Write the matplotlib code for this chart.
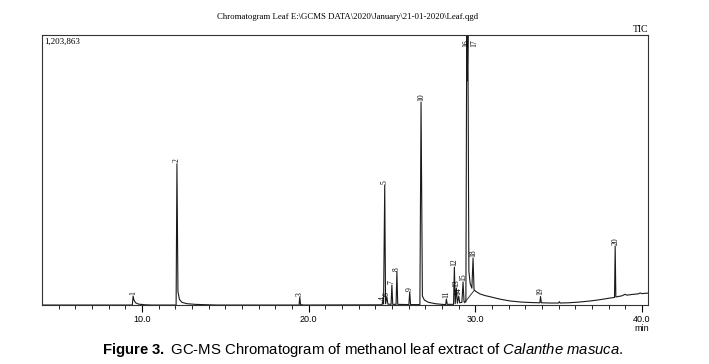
import numpy as np
import matplotlib.pyplot as plt

plt.rcParams['mathtext.fontset'] = 'custom'
plt.rcParams['mathtext.rm'] = 'Liberation Sans'
plt.rcParams['mathtext.it'] = 'Liberation Sans:italic'
plt.rcParams['mathtext.bf'] = 'Liberation Sans:bold'

# peak apexes (retention time in min, intensity in counts)
peak_no = [str(n) for n in range(1, 21)]
peak_rt = [9.47, 12.10, 19.47, 24.45, 24.57, 24.70, 25.00, 25.30, 26.07, 26.75,
           28.27, 28.75, 28.87, 29.01, 29.27, 29.49, 29.56, 29.87, 33.92, 38.40]
peak_h = [40000, 630000, 36000, 18000, 535000, 36000, 89000, 147000, 58000, 905000,
          27000, 169000, 76000, 40000, 103000, 1203863, 1203863, 210000, 38000, 263000]

# baseline, peak feet and tails (min, counts)
base_t = [4.0, 9.42, 9.52, 9.62, 9.8, 10.2, 10.6, 12.05, 12.16, 12.25, 12.4, 12.7,
          13.2, 14.0, 14.5, 19.43, 19.52, 19.7, 24.41, 24.50, 24.62, 24.76, 24.95,
          25.05, 25.25, 25.35, 26.02, 26.12, 26.68, 26.83, 26.95, 27.2, 27.6, 28.0,
          28.23, 28.32, 28.70, 28.80, 28.93, 29.07, 29.20, 29.33, 29.44, 29.525,
          29.62, 29.70, 29.80, 29.93, 30.05, 30.3, 30.6, 30.95, 31.5, 32.1, 32.8,
          33.4, 33.88, 33.97, 34.5, 35.0, 35.05, 35.1, 35.6, 36.2, 36.9, 37.5, 38.0,
          38.36, 38.44, 38.8, 39.0, 39.1, 39.4, 39.8, 39.9, 40.0, 40.35]
base_y = [0, 0, 22000, 10000, 4000, 1000, 0, 0, 60000, 25000, 12000, 6000,
          3000, 1000, 0, 0, 2000, 0, 1000, 5000, 6000, 4000, 3000,
          3000, 3000, 3000, 2000, 2000, 2000, 40000, 22000, 12000, 6000, 3000,
          2000, 3000, 3000, 6000, 8000, 10000, 12000, 14000, 14000, 1000000,
          150000, 95000, 75000, 68000, 60000, 49000, 42000, 36000, 26000, 18000, 13000,
          11000, 10000, 10000, 9000, 9000, 15000, 9000, 10000, 13000, 18000, 24000, 30000,
          34000, 36000, 41000, 48000, 44000, 47000, 50000, 54000, 51000, 53000]

ymax = 1203863

t = np.array(base_t + peak_rt)
y = np.array(base_y + peak_h)
order = np.argsort(t)

fig = plt.figure(figsize=(7.09, 3.64), dpi=100)
ax = fig.add_axes([0.0592, 0.162, 0.8543, 0.7418])

ax.plot(t[order], y[order], color='#1a1a1a', lw=0.8)
# integration line under the big peak
ax.plot([29.35, 29.95], [10000, 66000], color='#1a1a1a', lw=0.6)

serif = 'Liberation Serif'
for i in range(len(peak_no)):
    if peak_h[i] >= ymax:
        # labels of clipped peaks sit at the top, 17 pushed right of 16
        dx = 0 if peak_no[i] == '16' else 0.38
        ax.text(peak_rt[i] + dx, ymax * 0.985, peak_no[i], rotation=90, ha='center',
                va='top', fontsize=5.5, family=serif)
    else:
        ax.text(peak_rt[i], peak_h[i] + 6000, peak_no[i], rotation=90, ha='center',
                va='bottom', fontsize=5.5, family=serif)

ax.set_xlim(4.0, 40.35)
ax.set_ylim(0, ymax)
ax.set_xticks([10, 20, 30, 40])
ax.set_xticklabels(['10.0', '20.0', '30.0', '40.0'], fontsize=6.5, family='Liberation Sans')
ax.set_xticks(np.arange(5, 41, 1), minor=True)
ax.tick_params(axis='x', which='major', length=5, width=0.8, pad=2)
ax.tick_params(axis='x', which='minor', length=3, width=0.6)
ax.set_yticks([])
for s in ax.spines.values():
    s.set_linewidth(0.8)
    s.set_color('#333333')

ax.text(0.003, 0.99, '1,203,863', transform=ax.transAxes, ha='left', va='top',
        fontsize=6.5, family=serif)
fig.text(0.903, 0.918, 'TIC', ha='center', va='center', fontsize=7, family=serif)
fig.text(0.49, 0.953, r'Chromatogram Leaf E:\GCMS DATA\2020\January\21-01-2020\Leaf.qgd',
         ha='center', va='center', fontsize=6.3, family=serif)
fig.text(0.905, 0.097, 'min', ha='center', va='center', fontsize=6.5, family='Liberation Sans')

fig.text(0.511, 0.038,
         r'$\mathbf{Figure\ 3.}$ GC-MS Chromatogram of methanol leaf extract of $\mathit{Calanthe\ masuca}$.',
         ha='center', va='center', fontsize=10.7, family='Liberation Sans')

fig.savefig('out.png', dpi=100)
